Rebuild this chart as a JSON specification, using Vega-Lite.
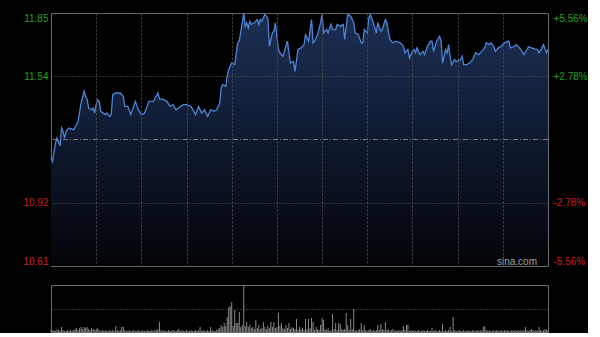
{
 "$schema": "https://vega.github.io/schema/vega-lite/v6.json",
 "background": "#000000",
 "padding": {"left": 0, "top": 9, "right": 0, "bottom": 0},
 "spacing": 16,
 "config": {"font": "Liberation Sans", "view": {"stroke": "#6e6e6e", "strokeWidth": 1}},
 "datasets": {
  "price": [
   {"t":0,"p":11.139},{"t":1,"p":11.122},{"t":3,"p":11.213},{"t":4,"p":11.237},{"t":6,"p":11.199},{"t":7,"p":11.286},{"t":8,"p":11.270},{"t":9,"p":11.237},{"t":10,"p":11.270},{"t":12,"p":11.286},
   {"t":15,"p":11.278},{"t":17,"p":11.302},{"t":18,"p":11.319},{"t":20,"p":11.409},{"t":22,"p":11.466},{"t":23,"p":11.441},{"t":24,"p":11.425},{"t":25,"p":11.384},{"t":27,"p":11.376},{"t":28,"p":11.384},
   {"t":29,"p":11.360},{"t":30,"p":11.401},{"t":31,"p":11.425},{"t":32,"p":11.417},{"t":33,"p":11.368},{"t":36,"p":11.352},{"t":37,"p":11.360},{"t":39,"p":11.343},{"t":40,"p":11.352},{"t":41,"p":11.450},
   {"t":43,"p":11.458},{"t":46,"p":11.458},{"t":48,"p":11.441},{"t":49,"p":11.392},{"t":51,"p":11.392},{"t":53,"p":11.352},{"t":56,"p":11.417},{"t":58,"p":11.376},{"t":60,"p":11.352},{"t":62,"p":11.358},
   {"t":65,"p":11.417},{"t":68,"p":11.417},{"t":71,"p":11.458},{"t":72,"p":11.429},{"t":75,"p":11.425},{"t":77,"p":11.417},{"t":79,"p":11.392},{"t":81,"p":11.401},{"t":83,"p":11.376},{"t":86,"p":11.392},
   {"t":88,"p":11.401},{"t":90,"p":11.401},{"t":93,"p":11.392},{"t":96,"p":11.352},{"t":98,"p":11.392},{"t":100,"p":11.360},{"t":102,"p":11.376},{"t":104,"p":11.343},{"t":106,"p":11.376},{"t":108,"p":11.368},
   {"t":110,"p":11.376},{"t":112,"p":11.409},{"t":113,"p":11.483},{"t":114,"p":11.499},{"t":116,"p":11.491},{"t":117,"p":11.540},{"t":118,"p":11.573},{"t":120,"p":11.605},{"t":122,"p":11.597},{"t":124,"p":11.704},
   {"t":125,"p":11.712},{"t":127,"p":11.802},{"t":128,"p":11.850},{"t":129,"p":11.785},{"t":130,"p":11.802},{"t":131,"p":11.777},{"t":132,"p":11.810},{"t":133,"p":11.794},{"t":135,"p":11.802},{"t":137,"p":11.818},
   {"t":138,"p":11.794},{"t":139,"p":11.818},{"t":140,"p":11.810},{"t":142,"p":11.843},{"t":144,"p":11.826},{"t":145,"p":11.687},{"t":147,"p":11.753},{"t":148,"p":11.761},{"t":149,"p":11.802},{"t":151,"p":11.671},
   {"t":152,"p":11.655},{"t":154,"p":11.638},{"t":157,"p":11.712},{"t":158,"p":11.655},{"t":159,"p":11.605},{"t":161,"p":11.613},{"t":162,"p":11.564},{"t":164,"p":11.671},{"t":166,"p":11.679},{"t":168,"p":11.695},
   {"t":169,"p":11.744},{"t":171,"p":11.712},{"t":173,"p":11.818},{"t":174,"p":11.704},{"t":175,"p":11.712},{"t":177,"p":11.744},{"t":179,"p":11.802},{"t":180,"p":11.843},{"t":181,"p":11.753},{"t":183,"p":11.769},
   {"t":184,"p":11.753},{"t":186,"p":11.794},{"t":187,"p":11.769},{"t":189,"p":11.769},{"t":190,"p":11.794},{"t":192,"p":11.785},{"t":194,"p":11.794},{"t":195,"p":11.720},{"t":196,"p":11.785},{"t":197,"p":11.843},
   {"t":199,"p":11.834},{"t":201,"p":11.802},{"t":202,"p":11.753},{"t":204,"p":11.744},{"t":206,"p":11.704},{"t":207,"p":11.704},{"t":208,"p":11.769},{"t":210,"p":11.753},{"t":211,"p":11.826},{"t":212,"p":11.843},
   {"t":214,"p":11.802},{"t":216,"p":11.753},{"t":217,"p":11.802},{"t":219,"p":11.761},{"t":220,"p":11.769},{"t":222,"p":11.818},{"t":223,"p":11.802},{"t":225,"p":11.720},{"t":227,"p":11.704},{"t":229,"p":11.712},
   {"t":232,"p":11.704},{"t":234,"p":11.687},{"t":235,"p":11.655},{"t":237,"p":11.671},{"t":238,"p":11.630},{"t":240,"p":11.662},{"t":241,"p":11.671},{"t":242,"p":11.655},{"t":243,"p":11.679},{"t":245,"p":11.646},
   {"t":247,"p":11.662},{"t":248,"p":11.646},{"t":250,"p":11.687},{"t":252,"p":11.712},{"t":253,"p":11.712},{"t":254,"p":11.662},{"t":256,"p":11.712},{"t":258,"p":11.736},{"t":259,"p":11.712},{"t":260,"p":11.605},
   {"t":262,"p":11.671},{"t":263,"p":11.655},{"t":264,"p":11.695},{"t":265,"p":11.638},{"t":266,"p":11.597},{"t":268,"p":11.622},{"t":269,"p":11.613},{"t":272,"p":11.622},{"t":273,"p":11.638},{"t":274,"p":11.597},
   {"t":276,"p":11.597},{"t":278,"p":11.605},{"t":280,"p":11.622},{"t":282,"p":11.655},{"t":284,"p":11.646},{"t":286,"p":11.662},{"t":288,"p":11.679},{"t":289,"p":11.704},{"t":291,"p":11.695},{"t":292,"p":11.704},
   {"t":294,"p":11.687},{"t":295,"p":11.662},{"t":297,"p":11.679},{"t":299,"p":11.687},{"t":301,"p":11.704},{"t":304,"p":11.712},{"t":305,"p":11.679},{"t":308,"p":11.687},{"t":309,"p":11.695},{"t":311,"p":11.679},
   {"t":312,"p":11.671},{"t":314,"p":11.646},{"t":316,"p":11.671},{"t":317,"p":11.684},{"t":319,"p":11.679},{"t":321,"p":11.674},{"t":323,"p":11.671},{"t":324,"p":11.655},{"t":326,"p":11.679},{"t":327,"p":11.695},
   {"t":329,"p":11.655},{"t":330,"p":11.671}
  ],
  "vol": [
   {"t":0,"v":2},{"t":1,"v":1},{"t":2,"v":2},{"t":3,"v":1},{"t":4,"v":3},{"t":5,"v":2},{"t":6,"v":1},{"t":7,"v":5},{"t":8,"v":2},{"t":9,"v":1},
   {"t":10,"v":1},{"t":11,"v":2},{"t":12,"v":1},{"t":13,"v":2},{"t":14,"v":1},{"t":15,"v":2},{"t":16,"v":3},{"t":17,"v":4},{"t":18,"v":2},{"t":19,"v":4},
   {"t":20,"v":5},{"t":21,"v":3},{"t":22,"v":5},{"t":23,"v":4},{"t":24,"v":5},{"t":25,"v":3},{"t":26,"v":2},{"t":27,"v":4},{"t":28,"v":3},{"t":29,"v":2},
   {"t":30,"v":3},{"t":31,"v":4},{"t":32,"v":2},{"t":33,"v":1},{"t":34,"v":2},{"t":35,"v":1},{"t":36,"v":2},{"t":37,"v":1},{"t":38,"v":1},{"t":39,"v":2},
   {"t":40,"v":1},{"t":41,"v":2},{"t":42,"v":1},{"t":43,"v":6},{"t":44,"v":2},{"t":45,"v":1},{"t":46,"v":2},{"t":47,"v":5},{"t":48,"v":5},{"t":49,"v":2},
   {"t":50,"v":1},{"t":51,"v":1},{"t":52,"v":2},{"t":53,"v":1},{"t":54,"v":1},{"t":55,"v":2},{"t":56,"v":1},{"t":57,"v":1},{"t":58,"v":2},{"t":59,"v":1},
   {"t":60,"v":1},{"t":61,"v":2},{"t":62,"v":1},{"t":63,"v":1},{"t":64,"v":2},{"t":65,"v":1},{"t":66,"v":1},{"t":67,"v":2},{"t":68,"v":1},{"t":69,"v":2},
   {"t":70,"v":2},{"t":71,"v":3},{"t":72,"v":10},{"t":73,"v":2},{"t":74,"v":1},{"t":75,"v":2},{"t":76,"v":1},{"t":77,"v":1},{"t":78,"v":2},{"t":79,"v":1},
   {"t":80,"v":1},{"t":81,"v":2},{"t":82,"v":1},{"t":83,"v":1},{"t":84,"v":2},{"t":85,"v":3},{"t":86,"v":1},{"t":87,"v":2},{"t":88,"v":1},{"t":89,"v":1},
   {"t":90,"v":2},{"t":91,"v":1},{"t":92,"v":1},{"t":93,"v":2},{"t":94,"v":1},{"t":95,"v":1},{"t":96,"v":2},{"t":97,"v":1},{"t":98,"v":2},{"t":99,"v":5},
   {"t":100,"v":1},{"t":101,"v":2},{"t":102,"v":1},{"t":103,"v":1},{"t":104,"v":2},{"t":105,"v":1},{"t":106,"v":5},{"t":107,"v":2},{"t":108,"v":1},{"t":109,"v":1},
   {"t":110,"v":2},{"t":111,"v":3},{"t":112,"v":4},{"t":113,"v":7},{"t":114,"v":5},{"t":115,"v":9},{"t":116,"v":6},{"t":117,"v":15},{"t":118,"v":25},{"t":119,"v":26},
   {"t":120,"v":30},{"t":121,"v":6},{"t":122,"v":22},{"t":123,"v":9},{"t":124,"v":9},{"t":125,"v":20},{"t":126,"v":5},{"t":127,"v":7},{"t":128,"v":47},{"t":129,"v":6},
   {"t":130,"v":10},{"t":131,"v":5},{"t":132,"v":7},{"t":133,"v":4},{"t":134,"v":5},{"t":135,"v":3},{"t":136,"v":12},{"t":137,"v":4},{"t":138,"v":7},{"t":139,"v":3},
   {"t":140,"v":4},{"t":141,"v":10},{"t":142,"v":5},{"t":143,"v":3},{"t":144,"v":6},{"t":145,"v":4},{"t":146,"v":10},{"t":147,"v":5},{"t":148,"v":10},{"t":149,"v":4},
   {"t":150,"v":5},{"t":151,"v":19},{"t":152,"v":6},{"t":153,"v":9},{"t":154,"v":4},{"t":155,"v":3},{"t":156,"v":7},{"t":157,"v":4},{"t":158,"v":9},{"t":159,"v":3},
   {"t":160,"v":5},{"t":161,"v":4},{"t":162,"v":3},{"t":163,"v":13},{"t":164,"v":2},{"t":165,"v":5},{"t":166,"v":3},{"t":167,"v":4},{"t":168,"v":2},{"t":169,"v":13},
   {"t":170,"v":3},{"t":171,"v":13},{"t":172,"v":4},{"t":173,"v":14},{"t":174,"v":10},{"t":175,"v":2},{"t":176,"v":5},{"t":177,"v":3},{"t":178,"v":2},{"t":179,"v":7},
   {"t":180,"v":14},{"t":181,"v":12},{"t":182,"v":3},{"t":183,"v":2},{"t":184,"v":4},{"t":185,"v":1},{"t":186,"v":2},{"t":187,"v":18},{"t":188,"v":3},{"t":189,"v":9},
   {"t":190,"v":2},{"t":191,"v":9},{"t":192,"v":8},{"t":193,"v":3},{"t":194,"v":2},{"t":195,"v":3},{"t":196,"v":19},{"t":197,"v":7},{"t":198,"v":2},{"t":199,"v":13},
   {"t":200,"v":3},{"t":201,"v":23},{"t":202,"v":2},{"t":203,"v":1},{"t":204,"v":2},{"t":205,"v":3},{"t":206,"v":9},{"t":207,"v":2},{"t":208,"v":7},{"t":209,"v":2},
   {"t":210,"v":1},{"t":211,"v":2},{"t":212,"v":3},{"t":213,"v":1},{"t":214,"v":2},{"t":215,"v":1},{"t":216,"v":2},{"t":217,"v":7},{"t":218,"v":2},{"t":219,"v":8},
   {"t":220,"v":3},{"t":221,"v":2},{"t":222,"v":10},{"t":223,"v":2},{"t":224,"v":3},{"t":225,"v":1},{"t":226,"v":2},{"t":227,"v":3},{"t":228,"v":1},{"t":229,"v":2},
   {"t":230,"v":1},{"t":231,"v":2},{"t":232,"v":1},{"t":233,"v":2},{"t":234,"v":6},{"t":235,"v":2},{"t":236,"v":7},{"t":237,"v":7},{"t":238,"v":1},{"t":239,"v":2},
   {"t":240,"v":1},{"t":241,"v":2},{"t":242,"v":1},{"t":243,"v":1},{"t":244,"v":2},{"t":245,"v":1},{"t":246,"v":1},{"t":247,"v":2},{"t":248,"v":1},{"t":249,"v":1},
   {"t":250,"v":2},{"t":251,"v":1},{"t":252,"v":1},{"t":253,"v":4},{"t":254,"v":1},{"t":255,"v":2},{"t":256,"v":1},{"t":257,"v":1},{"t":258,"v":2},{"t":259,"v":1},
   {"t":260,"v":8},{"t":261,"v":1},{"t":262,"v":2},{"t":263,"v":1},{"t":264,"v":2},{"t":265,"v":5},{"t":266,"v":1},{"t":267,"v":15},{"t":268,"v":2},{"t":269,"v":1},
   {"t":270,"v":1},{"t":271,"v":2},{"t":272,"v":1},{"t":273,"v":1},{"t":274,"v":2},{"t":275,"v":1},{"t":276,"v":1},{"t":277,"v":2},{"t":278,"v":1},{"t":279,"v":1},
   {"t":280,"v":2},{"t":281,"v":1},{"t":282,"v":1},{"t":283,"v":2},{"t":284,"v":1},{"t":285,"v":2},{"t":286,"v":1},{"t":287,"v":5},{"t":288,"v":6},{"t":289,"v":2},
   {"t":290,"v":1},{"t":291,"v":2},{"t":292,"v":1},{"t":293,"v":1},{"t":294,"v":2},{"t":295,"v":1},{"t":296,"v":2},{"t":297,"v":1},{"t":298,"v":1},{"t":299,"v":2},
   {"t":300,"v":1},{"t":301,"v":2},{"t":302,"v":1},{"t":303,"v":2},{"t":304,"v":1},{"t":305,"v":1},{"t":306,"v":2},{"t":307,"v":1},{"t":308,"v":2},{"t":309,"v":1},
   {"t":310,"v":2},{"t":311,"v":1},{"t":312,"v":2},{"t":313,"v":1},{"t":314,"v":2},{"t":315,"v":5},{"t":316,"v":2},{"t":317,"v":1},{"t":318,"v":2},{"t":319,"v":3},
   {"t":320,"v":2},{"t":321,"v":1},{"t":322,"v":2},{"t":323,"v":1},{"t":324,"v":5},{"t":325,"v":2},{"t":326,"v":1},{"t":327,"v":2},{"t":328,"v":3},{"t":329,"v":2},
   {"t":330,"v":2}
  ]
 },
 "vconcat": [
  {
   "width": 497,
   "height": 253,
   "data": {"name": "price"},
   "layer": [
    {
     "mark": {"type": "area", "fill": {"gradient": "linear", "x1": 0, "y1": 0, "x2": 0, "y2": 1, "stops": [{"offset": 0, "color": "#1c2f54"}, {"offset": 0.5, "color": "#0f1a30"}, {"offset": 1, "color": "#030408"}]}},
     "encoding": {
      "x": {"field": "t", "type": "quantitative", "scale": {"domain": [0, 330], "nice": false, "zero": false},
            "axis": {"orient": "bottom", "values": [30, 60, 90, 120, 150, 180, 210, 240, 270, 300], "labels": false, "ticks": false, "domain": false, "title": null, "grid": true, "gridColor": "#4a4a4a", "gridDash": [2, 2], "zindex": 1}},
      "y": {"field": "p", "type": "quantitative", "scale": {"domain": [10.61, 11.85], "zero": false, "nice": false},
            "axis": {"orient": "left", "values": [10.61, 10.92, 11.54, 11.85], "format": ".2f", "title": null, "domain": false, "ticks": false, "labelPadding": 3, "labelFontSize": 10, "labelFlush": true, "labelColor": {"condition": {"test": "datum.value > 11.23", "value": "#22a022"}, "value": "#d21e1e"}, "grid": true, "gridColor": "#5a5a5a", "gridDash": [1, 2], "zindex": 1, "minExtent": 50, "maxExtent": 50}},
      "y2": {"datum": 10.61}
     }
    },
    {
     "mark": {"type": "line", "color": "#4d85d8", "strokeWidth": 1.3},
     "encoding": {
      "x": {"field": "t", "type": "quantitative", "scale": {"domain": [0, 330], "nice": false, "zero": false}},
      "y": {"field": "p", "type": "quantitative", "scale": {"domain": [10.61, 11.85], "zero": false, "nice": false},
            "axis": {"orient": "right", "values": [10.61, 10.92, 11.54, 11.85], "labelExpr": "datum.value == 11.85 ? '+5.56%' : datum.value == 11.54 ? '+2.78%' : datum.value == 10.92 ? '-2.78%' : '-5.56%'", "title": null, "domain": false, "ticks": false, "grid": false, "labelPadding": 5, "labelFontSize": 10, "labelFlush": true, "labelColor": {"condition": {"test": "datum.value > 11.23", "value": "#22a022"}, "value": "#d21e1e"}}}
     }
    },
    {
     "data": {"values": [{"p": 11.23}]},
     "mark": {"type": "rule", "color": "#7a7a7a", "strokeDash": [5, 2, 1, 2], "strokeWidth": 1},
     "encoding": {
      "y": {"field": "p", "type": "quantitative", "scale": {"domain": [10.61, 11.85], "zero": false, "nice": false}, "axis": null}
     }
    },
    {
     "data": {"values": [{"t": 322.7, "p": 10.615, "label": "sina.com"}]},
     "mark": {"type": "text", "align": "right", "baseline": "alphabetic", "color": "#a0a0a0", "fontSize": 10},
     "encoding": {
      "x": {"field": "t", "type": "quantitative", "scale": {"domain": [0, 330], "nice": false, "zero": false}},
      "y": {"field": "p", "type": "quantitative", "scale": {"domain": [10.61, 11.85], "zero": false, "nice": false}, "axis": null},
      "text": {"field": "label"}
     }
    }
   ],
   "resolve": {"scale": {"y": "independent"}, "axis": {"y": "independent"}}
  },
  {
   "width": 497,
   "height": 47,
   "data": {"name": "vol"},
   "mark": {"type": "rule", "color": "#8c8c8c", "strokeWidth": 1},
   "encoding": {
    "x": {"field": "t", "type": "quantitative", "scale": {"domain": [0, 330], "nice": false, "zero": false}, "axis": null},
    "y": {"field": "v", "type": "quantitative", "scale": {"domain": [0, 47], "nice": false},
          "axis": {"values": [23.5], "labels": false, "ticks": false, "domain": false, "title": null, "grid": true, "gridColor": "#5a5a5a", "gridDash": [1, 2], "minExtent": 50, "maxExtent": 50}},
    "y2": {"datum": 0}
   }
  }
 ]
}
